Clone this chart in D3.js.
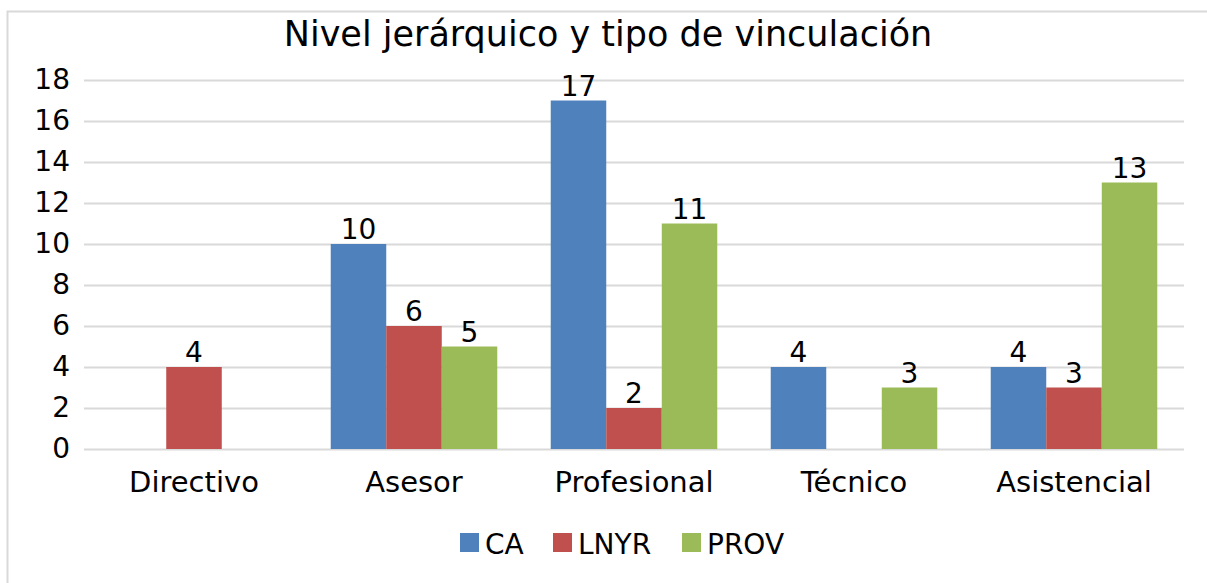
<!DOCTYPE html>
<html>
<head>
<meta charset="utf-8">
<script src="https://cdn.jsdelivr.net/npm/d3@7"></script>
<style>
  body { margin: 0; background: #fff; }
  text { font-family: "DejaVu Sans", Verdana, sans-serif; fill: #000; }
</style>
</head>
<body>
<div id="chart"></div>
<script>
// data
var categories = ["Directivo", "Asesor", "Profesional", "Técnico", "Asistencial"];
var seriesNames = ["CA", "LNYR", "PROV"];
var caValues = [null, 10, 17, 4, 4];
var lnyrValues = [4, 6, 2, null, 3];
var provValues = [null, 5, 11, 3, 13];
var yTicks = [0, 2, 4, 6, 8, 10, 12, 14, 16, 18];

var colors = ["#4F81BD", "#C0504D", "#9BBB59"];
var allValues = [caValues, lnyrValues, provValues];

var svgWidth = 1207;
var svgHeight = 583;

var margin = { top: 80, right: 23, bottom: 134, left: 84 };
var width = svgWidth - margin.left - margin.right;
var height = svgHeight - margin.top - margin.bottom;

var svg = d3.select("#chart")
    .append("svg")
    .attr("width", svgWidth)
    .attr("height", svgHeight);

// outer chart border
svg.append("rect")
    .attr("x", 7.5)
    .attr("y", 11.5)
    .attr("width", svgWidth)
    .attr("height", svgHeight)
    .attr("fill", "none")
    .attr("stroke", "#D9D9D9")
    .attr("stroke-width", 2);

// title
svg.append("text")
    .attr("x", 608)
    .attr("y", 46)
    .attr("text-anchor", "middle")
    .attr("font-size", 35)
    .text("Nivel jerárquico y tipo de vinculación");

var chartGroup = svg.append("g")
    .attr("transform", `translate(${margin.left}, ${margin.top})`);

var yScale = d3.scaleLinear()
    .domain([0, 18])
    .range([height, 0]);

var xScale = d3.scaleBand()
    .domain(categories)
    .range([0, width])
    .paddingInner(0)
    .paddingOuter(0);

var inner = d3.scaleBand()
    .domain(seriesNames)
    .range([0, xScale.bandwidth() * 0.757])
    .padding(0);

// gridlines
chartGroup.append("g")
    .selectAll("line")
    .data(yTicks)
    .enter()
    .append("line")
    .attr("x1", 0)
    .attr("x2", width)
    .attr("y1", d => Math.round(yScale(d)) + 0.5)
    .attr("y2", d => Math.round(yScale(d)) + 0.5)
    .attr("stroke", "#D9D9D9")
    .attr("stroke-width", 2);

// y axis labels
var leftAxis = d3.axisLeft(yScale).tickValues(yTicks).tickSize(0).tickPadding(14);
var yAxis = chartGroup.append("g").call(leftAxis);
yAxis.select(".domain").remove();
yAxis.selectAll("text")
    .attr("font-size", 28)
    .attr("font-family", "DejaVu Sans, Verdana, sans-serif")
    .attr("fill", "#000");

// x axis labels
var bottomAxis = d3.axisBottom(xScale).tickSize(0).tickPadding(22);
var xAxis = chartGroup.append("g")
    .attr("transform", `translate(0, ${height})`)
    .call(bottomAxis);
xAxis.select(".domain").remove();
xAxis.selectAll("text")
    .attr("font-size", 29)
    .attr("font-family", "DejaVu Sans, Verdana, sans-serif")
    .attr("fill", "#000");

// bars
var groupWidth = inner.range()[1];
seriesNames.forEach(function (name, si) {
    var vals = allValues[si];
    var pts = categories.map((c, i) => ({ cat: c, value: vals[i] })).filter(d => d.value !== null);

    var x = d => xScale(d.cat) + (xScale.bandwidth() - groupWidth) / 2 + inner(name);

    chartGroup.append("g")
        .selectAll("rect")
        .data(pts)
        .enter()
        .append("rect")
        .attr("x", x)
        .attr("y", d => yScale(d.value))
        .attr("width", inner.bandwidth())
        .attr("height", d => yScale(0) - yScale(d.value))
        .attr("fill", colors[si]);

    chartGroup.append("g")
        .selectAll("text")
        .data(pts)
        .enter()
        .append("text")
        .attr("x", d => x(d) + inner.bandwidth() / 2)
        .attr("y", d => yScale(d.value) - 5)
        .attr("text-anchor", "middle")
        .attr("font-size", 28)
        .text(d => d.value);
});

// legend
var legendX = [460, 553, 682];
var legend = svg.append("g");
seriesNames.forEach(function (name, i) {
    legend.append("rect")
        .attr("x", legendX[i])
        .attr("y", 533)
        .attr("width", 19)
        .attr("height", 19)
        .attr("fill", colors[i]);
    legend.append("text")
        .attr("x", legendX[i] + 25)
        .attr("y", 554)
        .attr("font-size", 28)
        .text(name);
});
</script>
</body>
</html>
